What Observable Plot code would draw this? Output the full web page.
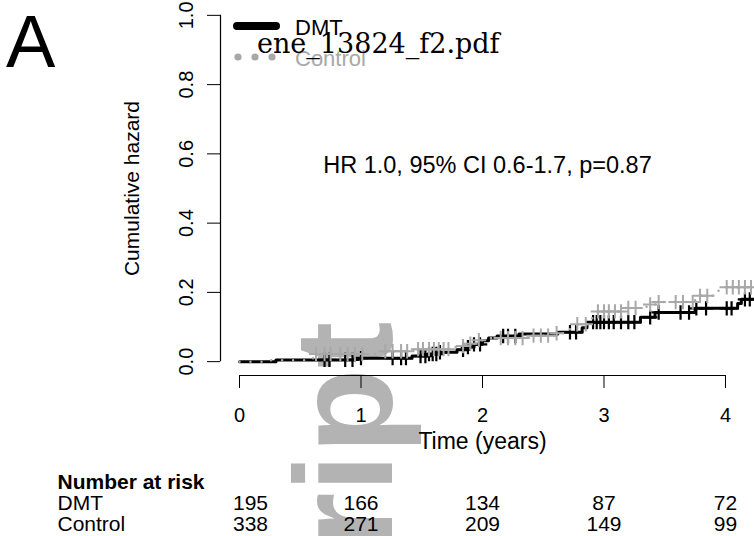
<!DOCTYPE html>
<html><head><meta charset="utf-8">
<script src="https://cdn.jsdelivr.net/npm/d3@7"></script>
<script src="https://cdn.jsdelivr.net/npm/@observablehq/plot@0.6"></script>
<style>
html,body{margin:0;padding:0;background:#fff;}
#wrap{position:relative;width:754px;height:536px;font-family:"Liberation Sans",Arial,Helvetica,sans-serif;}
#overlay{position:absolute;left:0;top:0;pointer-events:none;}
</style></head><body><div id="wrap"></div>
<script>
// ---- data ----
const groups = ["DMT", "Control"];
const dmtTimes = [0, 0.30, 0.95, 1.42, 1.55, 1.65, 1.79, 1.87, 1.93, 2.00, 2.05, 2.12, 2.30, 2.62, 2.82, 2.86, 3.30, 3.42, 3.75, 4.10, 4.13, 4.24];
const dmtHaz   = [0, 0.005, 0.010, 0.016, 0.022, 0.027, 0.034, 0.042, 0.050, 0.060, 0.068, 0.074, 0.080, 0.085, 0.098, 0.114, 0.128, 0.142, 0.154, 0.168, 0.180, 0.180];
const ctlTimes = [0, 0.20, 0.55, 0.62, 1.15, 1.40, 1.78, 1.85, 1.95, 2.05, 2.35, 2.60, 2.72, 2.78, 2.86, 2.95, 3.15, 3.35, 3.45, 3.75, 3.90, 3.98, 4.24];
const ctlHaz   = [0, 0.004, 0.010, 0.022, 0.030, 0.036, 0.045, 0.052, 0.062, 0.068, 0.075, 0.082, 0.095, 0.108, 0.125, 0.145, 0.155, 0.165, 0.172, 0.190, 0.205, 0.215, 0.215];
const dmtCensor = [0.70, 0.74, 0.87, 0.93, 1.00, 1.26, 1.33, 1.37, 1.49, 1.53, 1.56, 1.59, 1.62, 1.65, 1.84, 1.88, 1.93, 1.98, 2.17, 2.21, 2.27, 2.72, 2.77, 2.91, 2.94, 2.97, 3.00, 3.04, 3.08, 3.14, 3.20, 3.25, 3.38, 3.45, 3.63, 3.70, 3.76, 3.84, 4.01, 4.05, 4.16, 4.20];
const ctlCensor = [0.63, 0.70, 0.75, 0.83, 0.89, 0.95, 1.01, 1.20, 1.26, 1.33, 1.38, 1.47, 1.51, 1.56, 1.60, 1.64, 1.68, 1.72, 1.84, 1.90, 1.97, 2.15, 2.21, 2.27, 2.33, 2.42, 2.48, 2.54, 2.61, 2.78, 2.85, 2.95, 3.00, 3.04, 3.09, 3.14, 3.20, 3.26, 3.38, 3.45, 3.59, 3.65, 3.73, 3.79, 3.85, 4.01, 4.06, 4.11, 4.16, 4.21];
const xTicks = [0, 1, 2, 3, 4];
const yTicks = [0, 0.2, 0.4, 0.6, 0.8, 1.0];
const riskDMT = [195, 166, 134, 87, 72];
const riskCtl = [338, 271, 209, 149, 99];
const annotation = "HR 1.0, 95% CI 0.6-1.7, p=0.87";

// ---- tables built from arrays ----
const stepAt = (T, H, t) => { let v = 0; for (let i = 0; i < T.length; i++) if (T[i] <= t) v = H[i]; return v; };
const dmtLine = dmtTimes.map((t, i) => ({t, h: dmtHaz[i]}));
const ctlLine = ctlTimes.map((t, i) => ({t, h: ctlHaz[i]}));
const dmtMarks = dmtCensor.map(t => ({t, h: stepAt(dmtTimes, dmtHaz, t)}));
const ctlMarks = ctlCensor.map(t => ({t, h: stepAt(ctlTimes, ctlHaz, t)}));
const riskRows = xTicks.flatMap((t, i) => [{t, i, n: riskDMT[i], row: 0}, {t, i, n: riskCtl[i], row: 1}]);

const GRAY = "#a8a8a8";
const FONT = "Liberation Sans, Arial, Helvetica, sans-serif";
const xDom = [-0.1564, 4.2387], yDom = [-0.04, 1.04];

const riskMarks = [0, 1].flatMap(row => [
  Plot.text(riskRows.filter(d => d.row === row && d.i === 0), {x: "t", frameAnchor: "bottom", dx: 11, dy: 134 + 21 * row, lineAnchor: "bottom", text: "n", fontSize: 21}),
  Plot.text(riskRows.filter(d => d.row === row && d.i > 0), {x: "t", frameAnchor: "bottom", dy: 134 + 21 * row, lineAnchor: "bottom", text: "n", fontSize: 21})
]);

const chart = Plot.plot({
  width: 754, height: 536,
  marginLeft: 220, marginRight: 0, marginTop: 1, marginBottom: 161,
  x: {domain: xDom, nice: false},
  y: {domain: yDom, nice: false},
  style: {fontFamily: FONT, fontSize: "20px", background: "transparent", color: "black"},
  marks: [
    // watermark (behind data)
    Plot.text(["script"], {frameAnchor: "top-left", dx: 171, dy: 320, rotate: -90, textAnchor: "end", lineAnchor: "bottom", fontSize: 140, fontWeight: "bold", fill: "#b3b3b3", fontFamily: FONT}),
    // axes
    Plot.axisY({ticks: yTicks, tickSize: 13, tickFormat: () => "", label: null, stroke: "black"}),
    Plot.ruleX([xDom[0]], {y1: 0, y2: 1, stroke: "black", strokeWidth: 1.2}),
    Plot.text(yTicks, {y: d => d, frameAnchor: "left", dx: -34, rotate: -90, textAnchor: "middle", text: d => d.toFixed(1), fontSize: 20}),
    Plot.text(["Cumulative hazard"], {y: 0.5, frameAnchor: "left", dx: -88, rotate: -90, textAnchor: "middle", fontSize: 21}),
    Plot.axisX({ticks: xTicks, tickSize: 13, tickPadding: 19, tickFormat: d => String(d), label: null, fontSize: 20, stroke: "black"}),
    Plot.ruleY([yDom[0]], {x1: 0, x2: 4, stroke: "black", strokeWidth: 1.2}),
    Plot.text(["Time (years)"], {x: 2, frameAnchor: "bottom", dy: 73, lineAnchor: "bottom", fontSize: 23}),
    // curves
    Plot.line(dmtLine, {x: "t", y: "h", curve: "step-after", stroke: "black", strokeWidth: 3}),
    Plot.dot(dmtMarks, {x: "t", y: "h", symbol: "plus", r: 4.7, stroke: "black", strokeWidth: 2.2}),
    Plot.line(ctlLine, {x: "t", y: "h", curve: "step-after", stroke: GRAY, strokeWidth: 2.5, strokeDasharray: "0 11", strokeLinecap: "round"}),
    Plot.dot(ctlMarks, {x: "t", y: "h", symbol: "plus", r: 4.7, stroke: GRAY, strokeWidth: 2}),
    // annotation
    Plot.text([annotation], {x: 2.041, y: 0.546, lineAnchor: "bottom", fontSize: 23.5}),
    // risk table
    Plot.text(["Number at risk"], {frameAnchor: "bottom-left", dx: -163, dy: 113, textAnchor: "start", lineAnchor: "bottom", fontWeight: "bold", fontSize: 21}),
    Plot.text([groups[0]], {frameAnchor: "bottom-left", dx: -163, dy: 134, textAnchor: "start", lineAnchor: "bottom", fontSize: 21}),
    Plot.text([groups[1]], {frameAnchor: "bottom-left", dx: -163, dy: 155, textAnchor: "start", lineAnchor: "bottom", fontSize: 21}),
    ...riskMarks
  ]
});
const wrap = document.getElementById("wrap");
wrap.appendChild(chart);

// overlay: panel letter, legend, stamped file name
const ov = d3.select(wrap).append("svg").attr("id", "overlay").attr("width", 754).attr("height", 536);
ov.append("text").attr("x", 6).attr("y", 67).attr("font-family", FONT).attr("font-size", 74).text("A");
ov.append("line").attr("x1", 237).attr("x2", 276).attr("y1", 26).attr("y2", 26).attr("stroke", "black").attr("stroke-width", 8).attr("stroke-linecap", "round");
ov.append("text").attr("x", 295).attr("y", 34.5).attr("font-family", FONT).attr("font-size", 22).text(groups[0]);
[238, 255, 272].forEach(cx => ov.append("circle").attr("cx", cx).attr("cy", 57).attr("r", 3.6).attr("fill", GRAY));
ov.append("text").attr("x", 295).attr("y", 65.5).attr("font-family", FONT).attr("font-size", 22).attr("fill", GRAY).text(groups[1]);
ov.append("text").attr("x", 257).attr("y", 53).attr("font-family", "DejaVu Serif, serif").attr("font-size", 27).attr("fill", "black").text("ene_13824_f2.pdf");
</script>
</body></html>
